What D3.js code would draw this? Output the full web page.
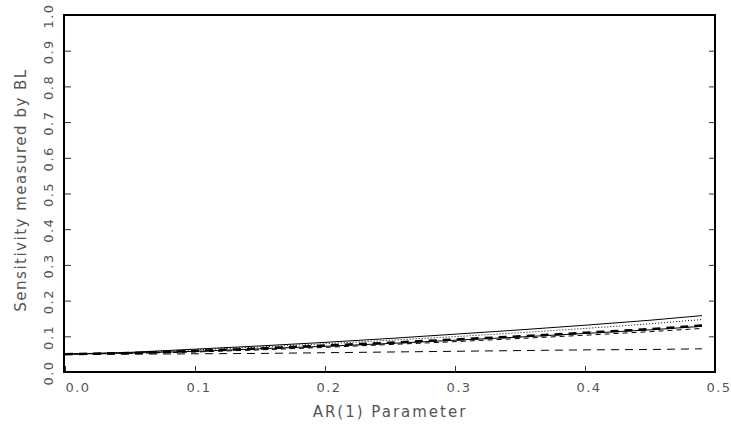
<!DOCTYPE html>
<html>
<head>
<meta charset="utf-8">
<script src="https://cdn.jsdelivr.net/npm/d3@7"></script>
<style>
  body { margin: 0; background: #fff; }
  text { font-family: "DejaVu Sans", sans-serif; fill: #555; }
</style>
</head>
<body>
<svg id="chart" width="731" height="427"></svg>
<script>
// AR(1) parameter grid
const arParam = [0.0, 0.05, 0.1, 0.15, 0.2, 0.25, 0.3, 0.35, 0.4, 0.45, 0.49];

// sensitivity curves (top to bottom)
const solidTop    = [0.050, 0.055, 0.064, 0.073, 0.083, 0.094, 0.106, 0.118, 0.131, 0.145, 0.158];
const dotted      = [0.050, 0.054, 0.062, 0.070, 0.079, 0.089, 0.099, 0.110, 0.122, 0.135, 0.147];
const thickDashed = [0.050, 0.053, 0.059, 0.066, 0.074, 0.082, 0.091, 0.100, 0.110, 0.120, 0.130];
const solidLow    = [0.050, 0.053, 0.058, 0.065, 0.072, 0.080, 0.089, 0.098, 0.108, 0.118, 0.128];
const thinDashed  = [0.050, 0.052, 0.056, 0.062, 0.069, 0.077, 0.085, 0.094, 0.103, 0.113, 0.122];
const flatDashed  = [0.050, 0.050, 0.051, 0.052, 0.054, 0.056, 0.058, 0.060, 0.062, 0.063, 0.065];

const xTicks = [0.0, 0.1, 0.2, 0.3, 0.4, 0.5];
const yTicks = [0.0, 0.1, 0.2, 0.3, 0.4, 0.5, 0.6, 0.7, 0.8, 0.9, 1.0];

const mLeft = 65, mRight = 715, mTop = 15, mBottom = 372;

const svg = d3.select('#chart');

const x = d3.scaleLinear().domain([0, 0.5]).range([mLeft, mRight]);
const y = d3.scaleLinear().domain([0, 1]).range([mBottom, mTop]);

// series
const series = [
  { values: solidTop,    width: 1,   dash: null },
  { values: dotted,      width: 1,   dash: '1,2' },
  { values: thickDashed, width: 2.5, dash: '8,6' },
  { values: solidLow,    width: 1,   dash: null },
  { values: thinDashed,  width: 1,   dash: '5,4' },
  { values: flatDashed,  width: 1,   dash: '8,6' }
];

const line = d3.line()
  .x((d, i) => x(arParam[i]))
  .y(d => y(d));

svg.selectAll('.series')
  .data(series)
  .join('path')
  .attr('class', 'series')
  .attr('d', d => line(d.values))
  .attr('fill', 'none')
  .attr('stroke', '#000')
  .attr('stroke-width', d => d.width)
  .attr('stroke-dasharray', d => d.dash);

// axes with inward ticks
const xAxis = d3.axisTop(x).tickValues(xTicks).tickSize(6).tickFormat('');
svg.append('g')
  .attr('transform', `translate(0, ${mBottom})`)
  .call(xAxis)
  .call(g => g.select('.domain').remove())
  .selectAll('line').attr('stroke', '#333');

const yAxisL = d3.axisRight(y).tickValues(yTicks).tickSize(6).tickFormat('');
svg.append('g')
  .attr('transform', `translate(${mLeft}, 0)`)
  .call(yAxisL)
  .call(g => g.select('.domain').remove())
  .selectAll('line').attr('stroke', '#333');

const yAxisR = d3.axisLeft(y).tickValues(yTicks).tickSize(6).tickFormat('');
svg.append('g')
  .attr('transform', `translate(${mRight}, 0)`)
  .call(yAxisR)
  .call(g => g.select('.domain').remove())
  .selectAll('line').attr('stroke', '#333');

// frame
svg.append('rect')
  .attr('x', mLeft - 1).attr('y', mTop)
  .attr('width', mRight - mLeft + 1).attr('height', mBottom - mTop)
  .attr('fill', 'none')
  .attr('stroke', '#000')
  .attr('stroke-width', 2);

// tick labels
svg.selectAll('.xlab')
  .data(xTicks)
  .join('text')
  .attr('class', 'xlab')
  .attr('x', d => x(d) + (d === 0 ? 13 : 4))
  .attr('y', 392)
  .attr('text-anchor', 'middle')
  .attr('font-size', 13)
  .attr('letter-spacing', 1.5)
  .text(d => d.toFixed(1));

svg.selectAll('.ylab')
  .data(yTicks)
  .join('text')
  .attr('class', 'ylab')
  .attr('transform', d => `translate(53, ${y(d) + 1}) rotate(-90)`)
  .attr('text-anchor', 'middle')
  .attr('font-size', 13)
  .attr('letter-spacing', 1.5)
  .text(d => d.toFixed(1));

// titles
svg.append('text')
  .attr('x', 390).attr('y', 417)
  .attr('text-anchor', 'middle')
  .attr('font-size', 15)
  .attr('letter-spacing', 2)
  .text('AR(1) Parameter');

svg.append('text')
  .attr('transform', 'translate(26, 190) rotate(-90)')
  .attr('text-anchor', 'middle')
  .attr('font-size', 15)
  .attr('letter-spacing', 1.5)
  .text('Sensitivity measured by BL');
</script>
</body>
</html>
